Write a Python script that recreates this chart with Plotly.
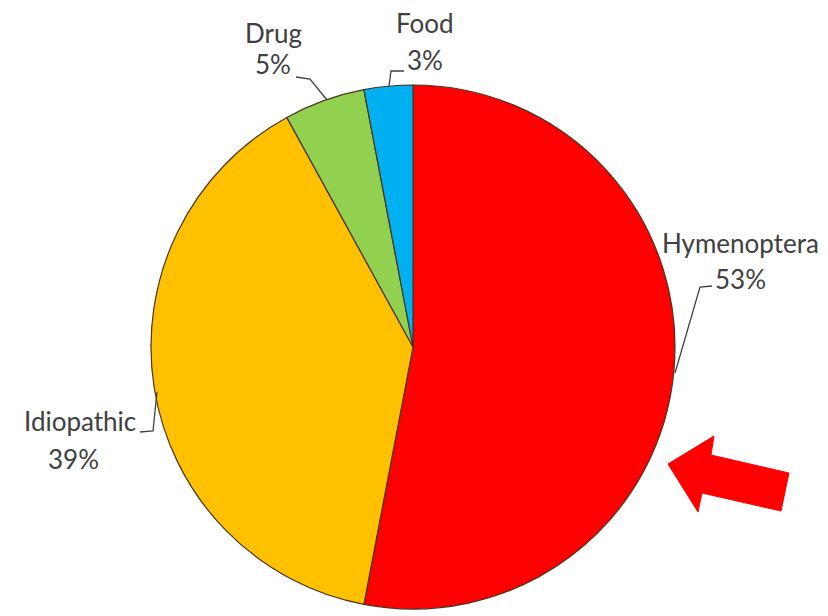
import plotly.graph_objects as go

W, H = 828, 616

labels = ["Hymenoptera", "Idiopathic", "Drug", "Food"]
values = [53, 39, 5, 3]
colors = ["#FF0000", "#FFC000", "#92D050", "#00B0F0"]
pct_text = ["53%", "39%", "5%", "3%"]


def px(x):
    return x / W


def py(y):
    return 1 - y / H


cx, cy, r = 413, 347, 262

fig = go.Figure()
fig.add_trace(go.Pie(
    labels=labels,
    values=values,
    marker=dict(colors=colors, line=dict(color="#4a3520", width=1.2)),
    sort=False,
    direction="clockwise",
    rotation=0,
    textinfo="none",
    hoverinfo="label+percent",
    showlegend=False,
    domain=dict(x=[px(cx - r), px(cx + r)], y=[py(cy + r), py(cy - r)]),
))

font = dict(family="Lato, Open Sans, sans-serif", size=26, color="#404040")

# label positions (pixel centres) for name and percentage lines
label_pos = {
    "Hymenoptera": ((740, 243), (740, 279)),
    "Idiopathic": ((80, 421), (73, 459)),
    "Drug": ((273, 33), (273, 64)),
    "Food": ((425, 23), (425, 60)),
}

annotations = []
for lab, pct in zip(labels, pct_text):
    (nx, ny), (qx, qy) = label_pos[lab]
    annotations.append(dict(x=px(nx), y=py(ny), xref="paper", yref="paper",
                            text=lab, showarrow=False, font=font,
                            xanchor="center", yanchor="middle"))
    annotations.append(dict(x=px(qx), y=py(qy), xref="paper", yref="paper",
                            text=pct, showarrow=False, font=font,
                            xanchor="center", yanchor="middle"))

leaders = [
    [(712, 286), (700, 287), (675, 373)],
    [(140, 432), (153, 431), (157, 392)],
    [(296, 77), (310, 79), (327, 100)],
    [(404, 71), (391, 71), (389, 86)],
]

shapes = []
for pts in leaders:
    path = "M " + " L ".join(f"{px(x):.5f},{py(y):.5f}" for x, y in pts)
    shapes.append(dict(type="path", path=path, xref="paper", yref="paper",
                       line=dict(color="#404040", width=1.3)))

arrow = [(668, 464), (714, 436), (711, 455), (789, 473), (781, 511),
         (702, 493), (698, 512)]
apath = "M " + " L ".join(f"{px(x):.5f},{py(y):.5f}" for x, y in arrow) + " Z"
shapes.append(dict(type="path", path=apath, xref="paper", yref="paper",
                   fillcolor="#FF0000", line=dict(color="#FF0000", width=1)))

fig.update_layout(
    width=W, height=H,
    margin=dict(l=0, r=0, t=0, b=0),
    paper_bgcolor="white",
    plot_bgcolor="white",
    annotations=annotations,
    shapes=shapes,
)

fig.write_html("out.html")
